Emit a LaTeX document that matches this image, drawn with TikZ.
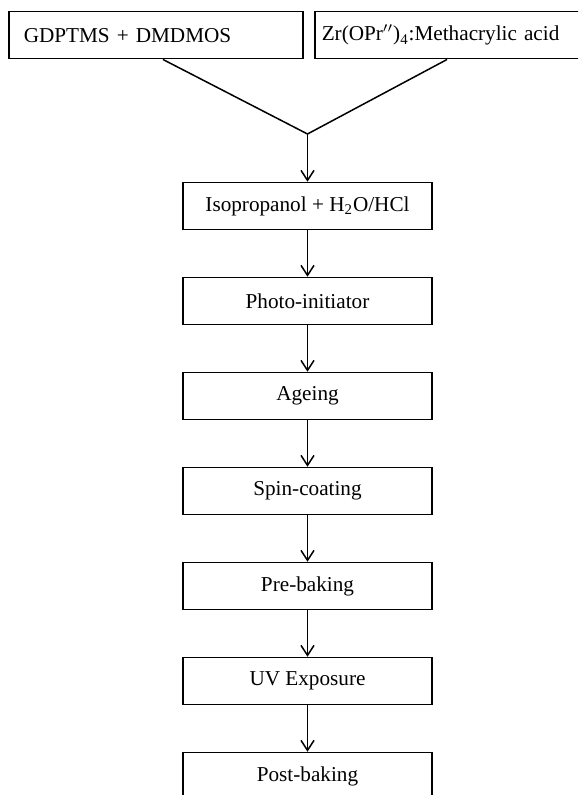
\documentclass[tikz,border=0pt]{standalone}
\usepackage{fontspec}
\setmainfont{Liberation Serif}
\usetikzlibrary{calc,arrows.meta}

\begin{document}
\begin{tikzpicture}[x=.5pt,y=-.5pt,line width=.75pt,
    every node/.style={font=\fontsize{10.6}{12}\selectfont},
    step box/.style={draw,rectangle,minimum width=124.5pt,minimum height=23.5pt,inner sep=0pt},
    top box/.style={draw,rectangle,anchor=north west,minimum height=23.5pt,inner ysep=0pt,align=left},
    >={Straight Barb[length=5pt,width=6.5pt]}]
      \useasboundingbox (0,0) rectangle (578,795);
      \clip (0,0) rectangle (578,795);
      % the two starting mixtures
      \draw (8,11) node [top box,inner xsep=7.5pt,text width=132pt] (silane) {GDPTMS + DMDMOS}
        ($(silane.south west) + (155,0)$) coordinate (silout);
      \draw (314,11) node [top box,inner xsep=3.5pt,text width=143pt] (zirc) {Zr(OPr$''$)\textsubscript{4}:Methacrylic acid}
        ($(zirc.south west) + (133,0)$) coordinate (zircout);
      \coordinate (join) at (307.5,134);
      % process steps
      \node [step box] (mix) at (307.5,206) {Isopropanol + H\textsubscript{2}O/HCl};
      \node [step box] (photo) at (307.5,301) {Photo-initiator};
      \node [step box] (age) at (307.5,396) {Ageing};
      \node [step box] (spin) at (307.5,491) {Spin-coating};
      \node [step box] (prebake) at (307.5,586) {Pre-baking};
      \node [step box] (uv) at (307.5,681) {UV Exposure};
      \node [step box] (postbake) at (307.5,776) {Post-baking};
      \draw
        (silout) -- (join)
        (zircout) -- (join);
      \draw[->] (join) -- (mix);
      \draw[->] (mix) -- (photo);
      \draw[->] (photo) -- (age);
      \draw[->] (age) -- (spin);
      \draw[->] (spin) -- (prebake);
      \draw[->] (prebake) -- (uv);
      \draw[->] (uv) -- (postbake);
    \end{tikzpicture}
\end{document}
